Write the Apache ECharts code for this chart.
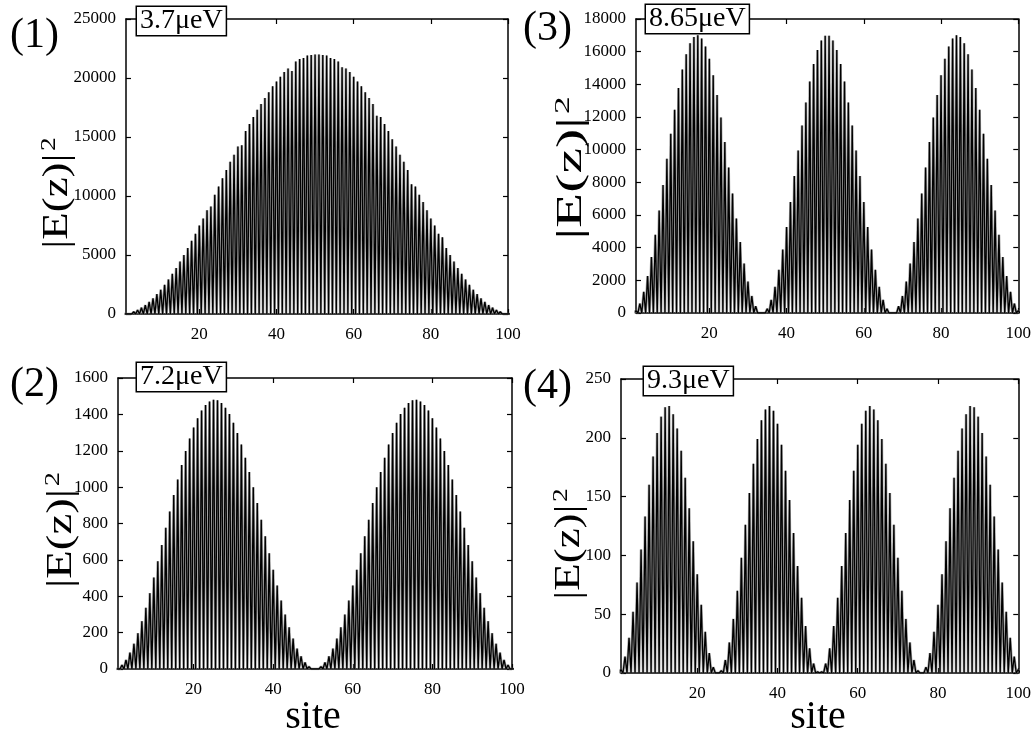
<!DOCTYPE html>
<html><head><meta charset="utf-8">
<script src="https://cdn.jsdelivr.net/npm/echarts@6/dist/echarts.min.js"></script>
<style>html,body{margin:0;padding:0;background:#fff}#c{width:1034px;height:734px}</style>
</head><body><div id="c"></div>
<script>
// site index 1..100
const sites = Array.from({length: 100}, (_, i) => i + 1);
const xTicks = [20, 40, 60, 80, 100];

// spike heights |E(z)|^2 read at each site (oscillation minima are 0)
const peaks1 = [20, 90, 190, 340, 530, 760, 1030, 1330, 1680, 2060, 2480, 2930, 3400, 3900, 4450, 5000, 5600, 6200, 6800, 7500,
  8100, 8800, 9100, 10100, 10800, 11500, 12200, 12900, 13500, 14200, 14300, 15500, 16100, 16700, 17300, 17800, 18300, 18800, 19300, 19700,
  20100, 20500, 20800, 20600, 21400, 21600, 21700, 21900, 21950, 22000, 22000, 21950, 21900, 21700, 21600, 21400, 20900, 20800, 20500, 20100,
  19700, 19300, 18800, 18300, 17800, 16800, 16700, 16100, 15500, 14800, 14200, 13500, 12900, 12200, 11000, 10800, 10100, 9500, 8800, 8100,
  7500, 6800, 6500, 5600, 5000, 4450, 3900, 3400, 2930, 2480, 2060, 1680, 1330, 1030, 760, 530, 340, 190, 90, 20];
const peaks2 = [6, 22, 50, 90, 139, 197, 263, 337, 417, 503, 592, 682, 776, 866, 956, 1042, 1122, 1199, 1267, 1328,
  1379, 1421, 1452, 1471, 1480, 1477, 1462, 1437, 1402, 1354, 1298, 1234, 1162, 1083, 999, 912, 821, 730, 636, 546,
  459, 377, 299, 229, 167, 112, 70, 36, 13, 1, 1, 13, 36, 70, 112, 167, 229, 299, 377, 459,
  546, 636, 730, 821, 912, 999, 1083, 1162, 1234, 1298, 1354, 1402, 1437, 1462, 1477, 1480, 1471, 1452, 1421, 1379,
  1328, 1267, 1199, 1122, 1042, 956, 866, 776, 682, 592, 503, 417, 337, 263, 197, 139, 90, 50, 22, 6];
const peaks3 = [150, 580, 1290, 2260, 3430, 4790, 6270, 7840, 9440, 10980, 12440, 13770, 14910, 15840, 16510, 16900, 17000, 16800, 16320, 15560,
  14550, 13350, 11970, 10470, 8910, 7310, 5780, 4340, 3030, 1920, 1040, 410, 70, 20, 260, 800, 1600, 2640, 3880, 5270,
  6800, 8380, 9950, 11480, 12890, 14180, 15250, 16100, 16680, 16970, 16970, 16680, 16100, 15250, 14180, 12890, 11480, 9950, 8380, 6800,
  5270, 3880, 2640, 1600, 800, 260, 20, 70, 410, 1040, 1920, 3030, 4340, 5780, 7310, 8910, 10470, 11970, 13350, 14550,
  15560, 16320, 16800, 17000, 16900, 16510, 15840, 14910, 13770, 12440, 10980, 9440, 7840, 6270, 4790, 3430, 2260, 1290, 580, 150];
const peaks4 = [3, 14, 30, 52, 77, 105, 133, 160, 184, 204, 218, 226, 227, 220, 208, 189, 166, 140, 112, 84,
  58, 35, 17, 5, 0, 2, 11, 26, 46, 70, 98, 126, 153, 178, 199, 215, 224, 227, 223, 212,
  194, 172, 147, 119, 91, 64, 40, 21, 8, 1, 1, 8, 21, 40, 64, 91, 119, 147, 172, 194,
  212, 223, 227, 224, 215, 199, 178, 153, 126, 98, 70, 46, 26, 11, 2, 0, 5, 17, 35, 58,
  84, 112, 140, 166, 189, 208, 220, 227, 226, 218, 204, 184, 160, 133, 105, 77, 52, 30, 14, 3];

const panelLabels = ['(1)', '(3)', '(2)', '(4)'];
const energies = ['3.7μeV', '8.65μeV', '7.2μeV', '9.3μeV'];
const yMax = [25000, 18000, 1600, 250];
const yStep = [5000, 2000, 200, 50];
const seriesPeaks = [peaks1, peaks3, peaks2, peaks4];

const FONT = 'Liberation Serif';
const grids = [
  {left: 126, top: 19, width: 382, height: 295},
  {left: 636, top: 19, width: 383, height: 294},
  {left: 118, top: 378, width: 394, height: 291},
  {left: 621, top: 379, width: 401, height: 294}
];

function zigzag(peaks) {
  const d = [];
  for (let i = 0; i < sites.length; i++) {
    d.push([sites[i] - 0.5, 0]);
    d.push([sites[i], peaks[i]]);
  }
  d.push([sites[sites.length - 1] + 0.5, 0]);
  return d;
}

const lineAx = {show: true, onZero: false, lineStyle: {color: '#000', width: 1.5}};
const xAxis = [], yAxis = [], series = [], graphic = [];
grids.forEach((g, k) => {
  xAxis.push({gridIndex: k, type: 'value', min: 1, max: 100, position: 'bottom',
    axisLine: lineAx, splitLine: {show: false},
    axisTick: {inside: true, length: 5, customValues: xTicks, lineStyle: {color: '#000', width: 1.2}},
    axisLabel: {customValues: xTicks, color: '#000', fontFamily: FONT, fontSize: 17, margin: 12}});
  xAxis.push({gridIndex: k, type: 'value', min: 1, max: 100, position: 'top',
    axisLine: lineAx, splitLine: {show: false},
    axisTick: {inside: true, length: 5, customValues: xTicks, lineStyle: {color: '#000', width: 1.2}},
    axisLabel: {show: false}});
  yAxis.push({gridIndex: k, type: 'value', min: 0, max: yMax[k], interval: yStep[k], position: 'left',
    axisLine: lineAx, splitLine: {show: false},
    axisTick: {inside: true, length: 5, lineStyle: {color: '#000', width: 1.2}},
    axisLabel: {color: '#000', fontFamily: FONT, fontSize: 17, margin: 10, formatter: v => String(v)}});
  yAxis.push({gridIndex: k, type: 'value', min: 0, max: yMax[k], interval: yStep[k], position: 'right',
    axisLine: lineAx, splitLine: {show: false},
    axisTick: {inside: true, length: 5, lineStyle: {color: '#000', width: 1.2}},
    axisLabel: {show: false}});
  const data = zigzag(seriesPeaks[k]);
  // grey halo (the scanned reference shows grey fill between the black spikes)
  series.push({type: 'line', xAxisIndex: 2 * k, yAxisIndex: 2 * k, data,
    showSymbol: false, symbol: 'none', lineStyle: {color: '#7a7a7a', width: 2.6, opacity: 0.7}, clip: true, z: 1, silent: true});
  series.push({type: 'line', xAxisIndex: 2 * k, yAxisIndex: 2 * k, data,
    showSymbol: false, symbol: 'none', lineStyle: {color: '#000', width: 1.3}, clip: true, z: 2});
});

const labelPos = [[10, 36], [523, 29], [10, 385], [523, 387]];
const boxPos = [[137, 7], [646, 5], [137, 363], [644, 367]];
// y-axis title: centre x, centre y, stretch along the text
const titlePos = [[58, 193, 1.25], [572, 168, 1.6], [62, 530, 1.3], [570, 544, 1.25]];
for (let k = 0; k < 4; k++) {
  graphic.push({type: 'text', x: labelPos[k][0], y: labelPos[k][1], z: 10,
    style: {text: panelLabels[k], font: '42px "' + FONT + '"', fill: '#000', align: 'left', verticalAlign: 'middle'}});
  graphic.push({type: 'text', x: boxPos[k][0], y: boxPos[k][1], z: 10,
    style: {text: energies[k], font: '28px "' + FONT + '"', fill: '#000', align: 'left', verticalAlign: 'top',
      backgroundColor: '#fff', borderColor: '#000', borderWidth: 1.5, padding: [0, 3, 0, 3], lineHeight: 28}});
  graphic.push({type: 'text', x: titlePos[k][0], y: titlePos[k][1], rotation: Math.PI / 2, scaleX: titlePos[k][2], z: 10,
    style: {text: '|E(z)|{s|2}', font: '36px "' + FONT + '"', fill: '#000', align: 'center', verticalAlign: 'middle',
      rich: {s: {font: '22px "' + FONT + '"', fill: '#000', verticalAlign: 'top', padding: [0, 0, 18, 2]}}}});
}
graphic.push({type: 'text', x: 313, y: 717, z: 10,
  style: {text: 'site', font: '40px "' + FONT + '"', fill: '#000', align: 'center', verticalAlign: 'middle'}});
graphic.push({type: 'text', x: 818, y: 717, z: 10,
  style: {text: 'site', font: '40px "' + FONT + '"', fill: '#000', align: 'center', verticalAlign: 'middle'}});

const chart = echarts.init(document.getElementById('c'), null, {renderer: 'canvas'});
chart.setOption({animation: false, backgroundColor: '#fff', grid: grids, xAxis, yAxis, series, graphic});
</script></body></html>
